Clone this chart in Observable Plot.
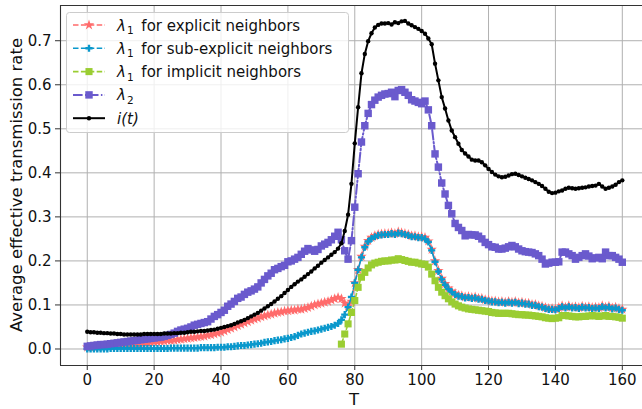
<!DOCTYPE html>
<html><head><meta charset="utf-8">
<script src="https://cdn.jsdelivr.net/npm/d3@7"></script>
<script src="https://cdn.jsdelivr.net/npm/@observablehq/plot@0.6"></script>
<style>body{margin:0;background:#fff} svg{display:block}</style>
</head><body><div id="chart"></div>
<script>
const xTicks = [0, 20, 40, 60, 80, 100, 120, 140, 160];
const yTicks = [0, 0.1, 0.2, 0.3, 0.4, 0.5, 0.6, 0.7];
const xLabel = "T";
const yLabel = "Average effective transmission rate";

// T = 0..160
const explicitVals = [0.004,0.004,0.005,0.005,0.006,0.006,0.007,0.007,0.008,0.008,
0.009,0.010,0.010,0.011,0.012,0.012,0.013,0.014,0.014,0.015,
0.016,0.016,0.017,0.018,0.019,0.019,0.020,0.021,0.022,0.023,
0.024,0.025,0.026,0.027,0.028,0.029,0.031,0.032,0.034,0.036,
0.038,0.041,0.044,0.047,0.050,0.053,0.056,0.059,0.062,0.065,
0.068,0.070,0.073,0.075,0.077,0.079,0.081,0.083,0.084,0.086,
0.087,0.088,0.088,0.090,0.090,0.092,0.094,0.097,0.100,0.102,
0.104,0.106,0.108,0.111,0.114,0.117,0.114,0.104,0.097,0.108,
0.150,0.180,0.210,0.233,0.246,0.253,0.257,0.260,0.261,0.262,
0.262,0.264,0.262,0.266,0.264,0.262,0.260,0.257,0.257,0.255,
0.255,0.253,0.245,0.226,0.200,0.178,0.160,0.148,0.138,0.131,
0.126,0.122,0.121,0.118,0.119,0.117,0.118,0.115,0.115,0.112,
0.111,0.109,0.109,0.107,0.108,0.106,0.108,0.106,0.108,0.105,
0.106,0.104,0.104,0.101,0.101,0.098,0.097,0.094,0.092,0.092,
0.091,0.094,0.098,0.095,0.098,0.095,0.096,0.094,0.097,0.095,
0.096,0.094,0.095,0.094,0.098,0.095,0.097,0.093,0.095,0.092,
0.090];

const subExplicitVals = [0.000,0.000,0.000,0.000,0.000,0.000,0.000,0.001,0.001,0.001,
0.001,0.001,0.001,0.001,0.001,0.001,0.001,0.001,0.001,0.001,
0.001,0.001,0.001,0.001,0.001,0.002,0.002,0.002,0.002,0.002,
0.002,0.002,0.002,0.002,0.003,0.003,0.003,0.003,0.003,0.004,
0.004,0.004,0.005,0.005,0.006,0.007,0.008,0.008,0.009,0.010,
0.011,0.012,0.013,0.015,0.016,0.017,0.019,0.020,0.021,0.023,
0.024,0.026,0.028,0.031,0.034,0.036,0.038,0.040,0.041,0.043,
0.045,0.047,0.049,0.051,0.054,0.058,0.066,0.078,0.095,0.118,
0.150,0.180,0.208,0.231,0.244,0.251,0.255,0.258,0.259,0.260,
0.260,0.262,0.260,0.263,0.262,0.260,0.258,0.255,0.255,0.253,
0.253,0.250,0.243,0.224,0.198,0.176,0.158,0.146,0.136,0.129,
0.124,0.120,0.119,0.116,0.117,0.115,0.116,0.113,0.113,0.110,
0.109,0.107,0.107,0.105,0.106,0.104,0.106,0.104,0.106,0.103,
0.104,0.102,0.102,0.099,0.099,0.096,0.095,0.092,0.090,0.090,
0.089,0.092,0.096,0.093,0.096,0.093,0.094,0.092,0.095,0.093,
0.094,0.092,0.093,0.092,0.096,0.093,0.095,0.091,0.093,0.090,
0.088];

// T = 76..160
const implicitStart = 76;
const implicitVals = [0.011,0.034,0.057,0.083,
0.110,0.140,0.163,0.174,0.184,0.191,0.195,0.197,0.199,0.200,
0.200,0.202,0.202,0.205,0.203,0.201,0.199,0.197,0.197,0.195,
0.193,0.192,0.186,0.170,0.155,0.140,0.129,0.121,0.114,0.107,
0.102,0.098,0.095,0.093,0.091,0.090,0.089,0.088,0.087,0.086,
0.085,0.083,0.082,0.081,0.081,0.081,0.081,0.080,0.079,0.078,
0.078,0.077,0.077,0.076,0.075,0.074,0.073,0.071,0.070,0.069,
0.070,0.071,0.076,0.076,0.075,0.074,0.073,0.073,0.074,0.074,
0.075,0.076,0.075,0.074,0.075,0.076,0.074,0.074,0.073,0.072,
0.070];

const lambda2Vals = [0.006,0.007,0.008,0.009,0.010,0.010,0.011,0.012,0.013,0.014,
0.015,0.016,0.017,0.018,0.019,0.020,0.021,0.022,0.023,0.024,
0.025,0.026,0.027,0.029,0.031,0.033,0.036,0.040,0.043,0.045,
0.047,0.050,0.054,0.056,0.058,0.060,0.062,0.068,0.074,0.078,
0.083,0.088,0.097,0.102,0.108,0.115,0.118,0.124,0.129,0.132,
0.136,0.141,0.150,0.158,0.166,0.172,0.180,0.183,0.187,0.190,
0.198,0.200,0.204,0.208,0.215,0.222,0.228,0.225,0.222,0.226,
0.234,0.238,0.242,0.248,0.256,0.265,0.248,0.223,0.204,0.246,
0.322,0.398,0.470,0.507,0.535,0.555,0.565,0.572,0.576,0.579,
0.580,0.583,0.573,0.587,0.589,0.583,0.576,0.566,0.563,0.560,
0.557,0.563,0.543,0.507,0.443,0.413,0.377,0.352,0.326,0.307,
0.285,0.276,0.269,0.257,0.260,0.259,0.259,0.256,0.250,0.242,
0.237,0.232,0.231,0.227,0.227,0.229,0.232,0.235,0.232,0.227,
0.223,0.221,0.220,0.219,0.216,0.212,0.204,0.193,0.195,0.197,
0.197,0.198,0.220,0.220,0.216,0.212,0.204,0.208,0.212,0.216,
0.211,0.205,0.207,0.208,0.205,0.220,0.212,0.212,0.208,0.204,
0.197];

const infectedVals = [0.039,0.038,0.038,0.037,0.037,0.036,0.036,0.035,0.035,0.034,
0.034,0.033,0.033,0.033,0.033,0.033,0.033,0.034,0.034,0.034,
0.034,0.034,0.034,0.035,0.035,0.035,0.036,0.036,0.037,0.037,
0.038,0.039,0.039,0.040,0.041,0.041,0.042,0.043,0.044,0.046,
0.048,0.050,0.052,0.054,0.057,0.060,0.063,0.066,0.070,0.074,
0.078,0.082,0.087,0.092,0.097,0.102,0.108,0.114,0.120,0.127,
0.134,0.141,0.147,0.153,0.158,0.164,0.170,0.176,0.183,0.189,
0.196,0.202,0.208,0.214,0.220,0.228,0.240,0.268,0.305,0.375,
0.467,0.549,0.626,0.670,0.699,0.717,0.730,0.736,0.739,0.739,
0.740,0.737,0.742,0.740,0.744,0.745,0.739,0.735,0.731,0.727,
0.722,0.716,0.705,0.692,0.648,0.610,0.572,0.546,0.519,0.496,
0.481,0.466,0.452,0.444,0.437,0.430,0.428,0.428,0.424,0.417,
0.409,0.402,0.396,0.392,0.390,0.391,0.394,0.397,0.398,0.395,
0.392,0.389,0.386,0.383,0.379,0.375,0.370,0.364,0.357,0.354,
0.355,0.358,0.360,0.364,0.366,0.365,0.364,0.365,0.366,0.367,
0.369,0.370,0.371,0.375,0.369,0.364,0.366,0.369,0.373,0.379,
0.383];

const series = [
  {name: "explicit", start: 0, vals: explicitVals, color: "#ff6b6b", dash: "5.5,2.4", symbol: "star", r: 3.3, width: 1.6},
  {name: "subExplicit", start: 0, vals: subExplicitVals, color: "#0a98cc", dash: "5.5,2.4", symbol: "cross", r: 3.0, width: 1.6},
  {name: "implicit", start: implicitStart, vals: implicitVals, color: "#9acd32", dash: "5.5,2.4", symbol: "square", r: 4.0, width: 1.6},
  {name: "lambda2", start: 0, vals: lambda2Vals, color: "#6a5acd", dash: "9.6,2.4,1.5,2.4", symbol: "square", r: 4.2, width: 2},
  {name: "infected", start: 0, vals: infectedVals, color: "#000000", dash: null, symbol: "circle", r: 2.2, width: 2}
];

const rows = s => s.vals.map((v, i) => ({T: s.start + i, v}));

const marks = [
  Plot.gridX(xTicks, {stroke: "#b0b0b0", strokeOpacity: 1, strokeWidth: 1}),
  Plot.gridY(yTicks, {stroke: "#b0b0b0", strokeOpacity: 1, strokeWidth: 1})
];
for (const s of series) {
  const d = rows(s);
  marks.push(Plot.line(d, {x: "T", y: "v", stroke: s.color, strokeWidth: s.width, strokeDasharray: s.dash || undefined}));
  marks.push(Plot.dot(d, {x: "T", y: "v", symbol: () => s.symbol, r: s.r, fill: s.color, stroke: "none"}));
}
marks.push(
  Plot.ruleX([-8], {stroke: "#333", strokeWidth: 1.1}),
  Plot.ruleY([-0.0375], {stroke: "#333", strokeWidth: 1.1}),
  Plot.ruleY([0.78], {stroke: "#333", strokeWidth: 1.1}),
  Plot.axisX(xTicks, {tickSize: 5, tickPadding: 4, label: null, stroke: "#333", fontSize: 15}),
  Plot.axisY(yTicks, {tickSize: 5, tickPadding: 4, label: null, stroke: "#333", fontSize: 15, tickFormat: d3.format(".1f")})
);

const chart = Plot.plot({
  width: 642, height: 409,
  marginLeft: 60, marginRight: 0, marginTop: 5, marginBottom: 44,
  style: {fontFamily: "DejaVu Sans", fontSize: "15px", background: "white", color: "#111"},
  x: {domain: [-8, 166.04], label: null},
  y: {domain: [-0.0375, 0.78], label: null},
  symbol: {type: "identity"},
  marks
});
document.getElementById("chart").appendChild(chart);

// axis titles and legend
const svg = d3.select(chart);
svg.append("text").attr("x", 354).attr("y", 405).attr("text-anchor", "middle")
  .attr("font-size", 16.5).attr("fill", "#111").text(xLabel);
svg.append("text").attr("transform", "translate(22,185) rotate(-90)").attr("text-anchor", "middle")
  .attr("font-size", 16.5).attr("fill", "#111").text(yLabel);

const legendText = [
  ["λ", "1", " for explicit neighbors"],
  ["λ", "1", " for sub-explicit neighbors"],
  ["λ", "1", " for implicit neighbors"],
  ["λ", "2", ""],
  ["i(t)", "", ""]
];
const lg = svg.append("g").attr("text-anchor", "start");
lg.append("rect").attr("x", 66.5).attr("y", 12.5).attr("width", 282).attr("height", 120)
  .attr("rx", 3).attr("fill", "white").attr("fill-opacity", 0.8).attr("stroke", "#cccccc");
const symMap = {star: d3.symbolStar, cross: d3.symbolCross, square: d3.symbolSquare, circle: d3.symbolCircle};
series.forEach((s, i) => {
  const y = 25 + i * 23.3;
  lg.append("line").attr("x1", 73).attr("x2", 105).attr("y1", y).attr("y2", y)
    .attr("stroke", s.color).attr("stroke-width", s.width)
    .attr("stroke-dasharray", s.dash || null);
  lg.append("path").attr("transform", `translate(89,${y})`)
    .attr("d", d3.symbol(symMap[s.symbol], Math.PI * s.r * s.r)())
    .attr("fill", s.color);
  const t = lg.append("text").attr("x", 117).attr("y", y + 5.5).attr("font-size", 15)
    .attr("fill", "#111").attr("text-anchor", "start");
  const [a, sub, rest] = legendText[i];
  t.append("tspan").attr("font-style", "italic").text(a);
  if (sub) {
    t.append("tspan").attr("font-size", 10.5).attr("dx", 1).attr("dy", 3.5).text(sub);
    if (rest) t.append("tspan").attr("dx", 3).attr("dy", -3.5).text(rest);
  }
});
</script>
</body></html>
